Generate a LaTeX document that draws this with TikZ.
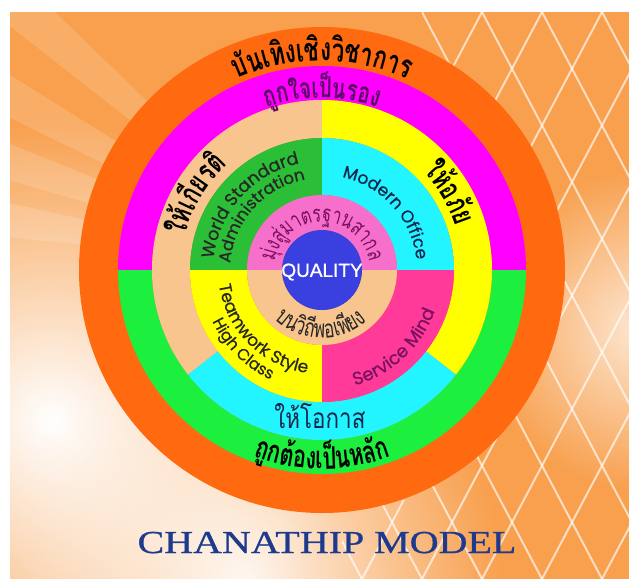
\documentclass[tikz,border=0pt]{standalone}
\usepackage{fontspec}
\usetikzlibrary{decorations.text,fadings}
\newfontfamily\thaifont[Script=Thai,FakeStretch=0.7]{Loma}
\newfontfamily\thaireg[Script=Thai,FakeStretch=0.8]{Loma}
\newfontfamily\enfont[FakeBold=0.6]{Poppins}
\newfontfamily\qfont[FakeBold=1]{Liberation Sans}
\newfontfamily\titlefont[FakeStretch=1.25,FakeBold=0.8]{Liberation Serif}
\definecolor{cOrange}{HTML}{FF6A10}
\definecolor{cMag}{HTML}{FF00FF}
\definecolor{cLime}{HTML}{1CEF3E}
\definecolor{cBeige}{HTML}{F8C58E}
\definecolor{cYel}{HTML}{FFFF00}
\definecolor{cCyan}{HTML}{22F5FF}
\definecolor{cGreen}{HTML}{2BBE37}
\definecolor{cPink}{HTML}{FF3A99}
\definecolor{cLPink}{HTML}{F56FCB}
\definecolor{cBlue}{HTML}{3A40E0}
\definecolor{cTitle}{HTML}{1E3A8C}
\definecolor{bgA}{HTML}{F8A04E}
\definecolor{tPurple}{HTML}{5A0A66}
\definecolor{tMaroon}{HTML}{7A1060}
\definecolor{tNavy}{HTML}{16264F}
\tikzfading[name=glow, inner color=transparent!0, outer color=transparent!100]
\newcommand\ringsec[5]{\fill[#1] (#2:#4pt) arc[start angle=#2,end angle=#3,radius=#4pt] -- (#3:#5pt) arc[start angle=#3,end angle=#2,radius=#5pt] -- cycle;}
\begin{document}
\begin{tikzpicture}[x=1pt,y=1pt]
\useasboundingbox (-322,-309) rectangle (307,270);
\fill[white] (-322,-309) rectangle (307,270);
% background
\begin{scope}
\clip (-312,-309) rectangle (307,258);
\fill[bgA] (-312,-309) rectangle (307,258);
\fill[white, path fading=glow, fill opacity=1] (-270,-150) circle[radius=300pt];
\fill[white, path fading=glow, fill opacity=0.9] (-80,-309) circle[radius=260pt];
\fill[white, path fading=glow, fill opacity=0.75] (318,-60) circle[radius=160pt];
\foreach \a in {136,148,158,168} {
  \fill[white, opacity=0.15] (0,0) -- (\a:700pt) -- (\a+6:700pt) -- cycle;
}
\begin{scope}
\clip (100,258) -- (307,258) -- (307,-309) -- (20,-309) -- (20,-230) -- (100,-230) -- cycle;
\foreach \k in {0,...,14} {
  \draw[white, line width=2pt, opacity=0.65] (40+\k*60,258) -- (40+\k*60-300,-309);
}
\foreach \k in {-9,...,5} {
  \draw[white, line width=2pt, opacity=0.65] (40+\k*60,258) -- (40+\k*60+300,-309);
}
\end{scope}
\end{scope}
% rings
\fill[cOrange] (0,0) circle[radius=243pt];
\ringsec{cMag}{0}{180}{204}{170}
\ringsec{cLime}{180}{360}{204}{170}
\ringsec{cBeige}{90}{218}{170}{132}
\ringsec{cYel}{-38}{90}{170}{132}
\ringsec{cCyan}{218}{322}{170}{132}
\ringsec{cGreen}{90}{180}{132}{75}
\ringsec{cCyan}{0}{90}{132}{75}
\ringsec{cYel}{180}{270}{132}{75}
\ringsec{cPink}{270}{360}{132}{75}
\ringsec{cLPink}{0}{180}{75}{40}
\ringsec{cBeige}{180}{360}{75}{40}
\fill[cBlue] (0,0) circle[radius=40pt];
% curved Thai texts
\path[decorate,decoration={text along path,text align=center,
  text={|\thaifont\bfseries\fontsize{32}{34}\selectfont|{บั}นเ{ทิ}งเ{ชิ}ง{วิ}ชาการ}}]
  (150:209pt) arc[start angle=150,end angle=30,radius=209pt];
\path[decorate,decoration={text along path,text align=center,
  text={|\thaifont\bfseries\fontsize{29}{31}\selectfont\color{tPurple}|{ถู}กใจเ{ป็}นรอง}}]
  (150:172pt) arc[start angle=150,end angle=30,radius=172pt];
\path[decorate,decoration={text along path,text align=center,
  text={|\thaifont\bfseries\fontsize{31}{33}\selectfont|ใ{ห้}เ{กี}ยร{ติ}}}]
  (199:141pt) arc[start angle=199,end angle=99,radius=141pt];
\path[decorate,decoration={text along path,text align=center,
  text={|\thaifont\bfseries\fontsize{31}{33}\selectfont|ใ{ห้}อ{ภั}ย}}]
  (81:141pt) arc[start angle=81,end angle=-19,radius=141pt];
\path[decorate,decoration={text along path,text align=center,
  text={|\thaifont\bfseries\fontsize{31}{33}\selectfont|{ถู}ก{ต้}องเ{ป็}นห{ลั}ก}}]
  (-150:199pt) arc[start angle=-150,end angle=-30,radius=199pt];
\path[decorate,decoration={text along path,text align=center,
  text={|\thaifont\fontsize{23}{25}\selectfont\color{tMaroon}|{มุ่}ง{สู่}มาตรฐานสากล}}]
  (200:48pt) arc[start angle=200,end angle=-20,radius=48pt];
\path[decorate,decoration={text along path,text align=center,
  text={|\thaifont\fontsize{25}{27}\selectfont\color{black!85}|บน{วิ}{ถี}พอเ{พี}ยง}}]
  (169:68pt) arc[start angle=169,end angle=369,radius=68pt];
% English curved texts
\path[decorate,decoration={text along path,text align=center,
  text={|\enfont\fontsize{17.5}{19}\selectfont\color{black!85}|World Standard}}]
  (198:109pt) arc[start angle=198,end angle=78,radius=109pt];
\path[decorate,decoration={text along path,text align=center,
  text={|\enfont\fontsize{16.5}{18}\selectfont\color{black!85}|Administration}}]
  (198:92pt) arc[start angle=198,end angle=78,radius=92pt];
\path[decorate,decoration={text along path,text align=center,
  text={|\enfont\fontsize{17}{19}\selectfont\color{tNavy}|Modern Office}}]
  (102:95pt) arc[start angle=102,end angle=-18,radius=95pt];
\path[decorate,decoration={text along path,text align=center,
  text={|\enfont\fontsize{17}{19}\selectfont\color{black!85}|Teamwork Style}}]
  (165:104pt) arc[start angle=165,end angle=285,radius=104pt];
\path[decorate,decoration={text along path,text align=center,
  text={|\enfont\fontsize{16}{18}\selectfont\color{black!85}|High Class}}]
  (165:121pt) arc[start angle=165,end angle=285,radius=121pt];
\path[decorate,decoration={text along path,text align=center,
  text={|\enfont\fontsize{18}{20}\selectfont\color{tMaroon}|Service Mind}}]
  (253:120pt) arc[start angle=253,end angle=373,radius=120pt];
% straight texts
\node[anchor=base, text=tNavy, font=\thaireg\fontsize{28}{30}\selectfont, inner sep=0pt] (okas) at (-2,-158) {ให้โอกาส};
\node[text=white, font=\qfont\fontsize{19}{21}\selectfont, inner sep=0pt] (quality) at (0,-2) {QUALITY};
\node[anchor=base, text=cTitle, font=\titlefont\fontsize{32}{34}\selectfont, inner sep=0pt] (title) at (5,-283) {CHANATHIP MODEL};
\end{tikzpicture}
\end{document}
